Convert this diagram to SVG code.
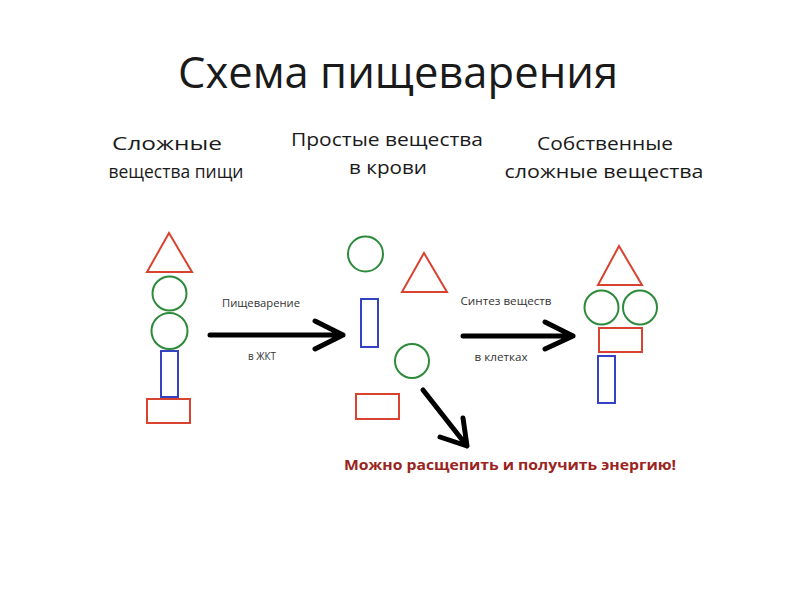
<svg xmlns="http://www.w3.org/2000/svg" width="800" height="600" viewBox="0 0 800 600">
<style>
.r{fill:none;stroke:#d8432f;stroke-width:2}
.g{fill:none;stroke:#2e8a3b;stroke-width:2}
.b{fill:none;stroke:#3343c2;stroke-width:2}
.t{font-family:"Open Sans","Noto Sans",sans-serif;fill:#1a1a1a;text-anchor:middle}
.s{font-family:"Open Sans","Noto Sans",sans-serif;fill:#333;font-size:11px;text-anchor:middle}
.a{fill:none;stroke:#000;stroke-width:5;stroke-linecap:round;stroke-linejoin:round}
</style>
<rect width="800" height="600" fill="#fff"/>
<text class="t" x="398" y="88" font-size="44" textLength="440" lengthAdjust="spacingAndGlyphs">Схема пищеварения</text>
<g id="label-left">
<text class="t" x="167" y="150" font-size="18" textLength="110" lengthAdjust="spacingAndGlyphs">Сложные</text>
<text class="t" x="176" y="178" font-size="18" textLength="135" lengthAdjust="spacingAndGlyphs">вещества пищи</text>
</g>
<g id="label-mid">
<text class="t" x="387" y="146" font-size="18" textLength="192" lengthAdjust="spacingAndGlyphs">Простые вещества</text>
<text class="t" x="388" y="174" font-size="18" textLength="78" lengthAdjust="spacingAndGlyphs">в крови</text>
</g>
<g id="label-right">
<text class="t" x="605" y="150" font-size="18" textLength="136" lengthAdjust="spacingAndGlyphs">Собственные</text>
<text class="t" x="604" y="178" font-size="18" textLength="199" lengthAdjust="spacingAndGlyphs">сложные вещества</text>
</g>
<g id="left-group">
<polygon class="r" points="169,233 147,272 192,272"/>
<circle class="g" cx="169.5" cy="293.5" r="17"/>
<circle class="g" cx="169.5" cy="331" r="18"/>
<rect class="b" x="161" y="351" width="17" height="46"/>
<rect class="r" x="147" y="399" width="43" height="24"/>
</g>
<g id="mid-group">
<circle class="g" cx="365.5" cy="254" r="17.5"/>
<polygon class="r" points="424,253 402,292 447,292"/>
<rect class="b" x="361" y="299" width="17" height="48"/>
<circle class="g" cx="412" cy="361" r="17"/>
<rect class="r" x="356" y="394" width="43" height="25"/>
</g>
<g id="right-group">
<polygon class="r" points="619,246 598,285 642,285"/>
<circle class="g" cx="601.5" cy="307.5" r="17"/>
<circle class="g" cx="640" cy="307.5" r="17"/>
<rect class="r" x="599" y="328" width="43" height="24"/>
<rect class="b" x="598" y="356" width="17" height="47"/>
</g>
<g id="connectors">
<path class="a" d="M210,335 H343 M315,321 L343,335 L315,349"/>
<path class="a" d="M463,336 H573 M545,322 L573,336 L545,349"/>
<path class="a" d="M423,390 L467,446 M440,437 L467,446 L463,418"/>
<text class="s" x="261" y="307" textLength="78" lengthAdjust="spacingAndGlyphs">Пищеварение</text>
<text class="s" x="262" y="360" textLength="28" lengthAdjust="spacingAndGlyphs">в ЖКТ</text>
<text class="s" x="506" y="305" textLength="91" lengthAdjust="spacingAndGlyphs">Синтез веществ</text>
<text class="s" x="501" y="361" textLength="53" lengthAdjust="spacingAndGlyphs">в клетках</text>
</g>
<text x="510" y="470" font-family="Open Sans, Noto Sans, sans-serif" font-weight="bold" font-size="14" fill="#9a2420" text-anchor="middle" textLength="332" lengthAdjust="spacingAndGlyphs">Можно расщепить и получить энергию!</text>
</svg>
